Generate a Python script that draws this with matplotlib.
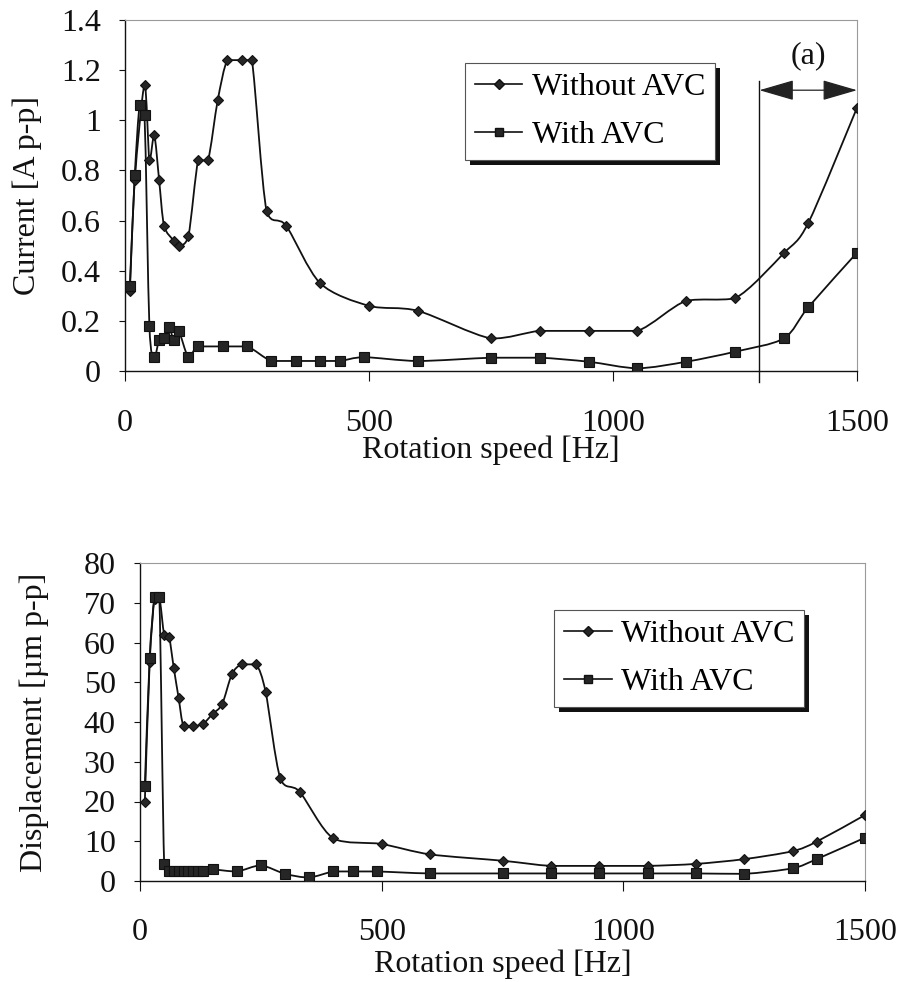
import numpy as np
import matplotlib
matplotlib.use("Agg")
import matplotlib.pyplot as plt
from matplotlib.path import Path
from matplotlib.patches import PathPatch, Rectangle
from matplotlib.lines import Line2D
from matplotlib.ticker import FuncFormatter
from matplotlib.transforms import IdentityTransform

plt.rcParams['font.family'] = ['Liberation Serif', 'DejaVu Serif']

# ---- Current vs rotation speed ----
cur_off_x = [10, 20, 40, 50, 60, 70, 80, 100, 110, 130, 150, 170, 190, 210, 240, 260,
             290, 330, 400, 500, 600, 750, 850, 950, 1050, 1150, 1250, 1350, 1400, 1500]
cur_off_y = [0.32, 0.76, 1.14, 0.84, 0.94, 0.76, 0.58, 0.52, 0.50, 0.54, 0.84, 0.84, 1.08, 1.24, 1.24, 1.24,
             0.64, 0.58, 0.35, 0.26, 0.24, 0.13, 0.16, 0.16, 0.16, 0.28, 0.29, 0.47, 0.59, 1.05]
cur_on_x = [10, 20, 30, 40, 50, 60, 70, 80, 90, 100, 110, 130, 150, 200, 250, 300, 350,
            400, 440, 490, 600, 750, 850, 950, 1050, 1150, 1250, 1350, 1400, 1500]
cur_on_y = [0.34, 0.78, 1.06, 1.02, 0.18, 0.055, 0.124, 0.13, 0.177, 0.124, 0.16, 0.055, 0.098, 0.098, 0.098, 0.04, 0.04,
            0.04, 0.04, 0.055, 0.04, 0.053, 0.053, 0.037, 0.011, 0.037, 0.077, 0.13, 0.254, 0.472]

# ---- Displacement vs rotation speed ----
disp_off_x = [10, 20, 30, 40, 50, 60, 70, 80, 90, 110, 130, 150, 170, 190, 210, 240, 260,
              290, 330, 400, 500, 600, 750, 850, 950, 1050, 1150, 1250, 1350, 1400, 1500]
disp_off_y = [20, 55, 71, 71.5, 62, 61.5, 53.5, 46, 39, 39, 39.5, 42, 44.5, 52, 54.5, 54.5, 47.5,
              26, 22.5, 10.7, 9.3, 6.7, 5.1, 3.8, 3.8, 3.8, 4.3, 5.5, 7.5, 9.9, 16.6]
disp_on_x = [10, 20, 30, 40, 50, 60, 70, 80, 90, 100, 110, 120, 130, 150, 200, 250, 300, 350,
             400, 440, 490, 600, 750, 850, 950, 1050, 1150, 1250, 1350, 1400, 1500]
disp_on_y = [24, 56, 71.5, 71.5, 4.4, 2.4, 2.4, 2.4, 2.4, 2.4, 2.4, 2.4, 2.4, 2.9, 2.4, 3.9, 1.8, 0.9,
             2.4, 2.4, 2.4, 1.9, 1.9, 1.9, 1.9, 1.9, 1.9, 1.8, 3.2, 5.5, 10.9]

series_labels = ["Without AVC", "With AVC"]
x_ticks = [0, 500, 1000, 1500]
cur_ticks = [0, 0.2, 0.4, 0.6, 0.8, 1.0, 1.2, 1.4]
disp_ticks = [0, 10, 20, 30, 40, 50, 60, 70, 80]

FS = 23
LEG_FS = 23
INK = "#111111"
SMOOTH = 1.0 / 7.0
OVERSHOOT = 0.1
DIAMOND_MS = 5.5
SQUARE_MS = 6.5


def smooth_path(x, y):
    """Smoothed Bezier connecting path; control heights are kept close to each segment's span."""
    pts = np.column_stack([x, y]).astype(float)
    n = len(pts)
    verts = [pts[0]]
    codes = [Path.MOVETO]
    for i in range(n - 1):
        p0 = pts[i - 1] if i > 0 else pts[i]
        p1 = pts[i]
        p2 = pts[i + 1]
        p3 = pts[i + 2] if i + 2 < n else pts[i + 1]
        c1 = p1 + (p2 - p0) * SMOOTH
        c2 = p2 - (p3 - p1) * SMOOTH
        lo, hi = min(p1[1], p2[1]), max(p1[1], p2[1])
        m = (hi - lo) * OVERSHOOT
        c1[1] = np.clip(c1[1], lo - m, hi + m)
        c2[1] = np.clip(c2[1], lo - m, hi + m)
        verts += [c1, c2, p2]
        codes += [Path.CURVE4] * 3
    return Path(verts, codes)


def draw_series(ax, x, y, marker, ms):
    ax.add_patch(PathPatch(smooth_path(x, y), facecolor="none", edgecolor=INK,
                           lw=1.3, zorder=3, joinstyle="round"))
    ax.plot(x, y, ls="none", marker=marker, ms=ms, mfc="#262626", mec=INK,
            mew=0.8, zorder=4)


def style_axes(ax, xlim, ylim, yticks, fmt):
    ax.set_xlim(*xlim)
    ax.set_ylim(*ylim)
    ax.set_xticks(x_ticks)
    ax.set_yticks(yticks)
    ax.yaxis.set_major_formatter(FuncFormatter(fmt))
    ax.xaxis.set_major_formatter(FuncFormatter(lambda v, p: f"{v:g}"))
    for s in ("left", "bottom"):
        ax.spines[s].set_color(INK)
        ax.spines[s].set_linewidth(1.0)
    for s in ("top", "right"):
        ax.spines[s].set_color("#9a9a9a")
        ax.spines[s].set_linewidth(0.8)
    ax.tick_params(axis="x", direction="out", length=7, width=0.8, pad=20,
                   labelsize=FS, colors=INK)
    ax.tick_params(axis="y", direction="out", length=4.5, width=0.8, pad=13,
                   labelsize=FS, colors=INK)


def add_legend(fig, ax, anchor):
    handles = [
        Line2D([], [], color=INK, lw=1.2, marker="D", ms=DIAMOND_MS - 0.5, mfc="#262626", mec=INK),
        Line2D([], [], color=INK, lw=1.2, marker="s", ms=SQUARE_MS - 0.5, mfc="#262626", mec=INK),
    ]
    leg = ax.legend(handles, series_labels, loc="upper left", bbox_to_anchor=anchor,
                    bbox_transform=fig.transFigure, borderaxespad=0, fontsize=LEG_FS,
                    frameon=True, fancybox=False, framealpha=1, edgecolor="#555555",
                    handlelength=1.5, handletextpad=0.3, labelspacing=0.6,
                    borderpad=0.3)
    leg.get_frame().set_linewidth(0.8)
    return leg


fig = plt.figure(figsize=(9.01, 9.82), dpi=100)
ax1 = fig.add_axes([125 / 901, 1 - 371 / 982, 732 / 901, 351 / 982])
ax2 = fig.add_axes([140 / 901, 1 - 881 / 982, 725 / 901, 318 / 982])

# Top panel: current
draw_series(ax1, cur_off_x, cur_off_y, "D", DIAMOND_MS)
draw_series(ax1, cur_on_x, cur_on_y, "s", SQUARE_MS)
style_axes(ax1, (0, 1500), (0, 1.4), cur_ticks, lambda v, p: f"{v:g}")
ax1.set_xlabel("Rotation speed [Hz]", fontsize=FS, color=INK)
ax1.set_ylabel("Current [A p-p]", fontsize=FS, color=INK)
ax1.xaxis.set_label_coords(0.5, -0.185)
ax1.yaxis.set_label_coords(-0.114, 0.5)

# Region (a): marker line and span arrow
ax1.plot([1300, 1300], [-0.045, 1.155], color=INK, lw=1.0, clip_on=False, zorder=3)
ax1.annotate("", xy=(1300, 1.12), xytext=(1500, 1.12),
             arrowprops=dict(arrowstyle="<|-|>,head_length=1.1,head_width=0.32",
                             mutation_scale=20, lw=0.9, color="#222222",
                             shrinkA=0, shrinkB=0), annotation_clip=False)
ax1.text(1400, 1.2, "(a)", ha="center", va="bottom", fontsize=LEG_FS, color=INK)

# Bottom panel: displacement
draw_series(ax2, disp_off_x, disp_off_y, "D", DIAMOND_MS)
draw_series(ax2, disp_on_x, disp_on_y, "s", SQUARE_MS)
style_axes(ax2, (0, 1500), (0, 80), disp_ticks, lambda v, p: f"{v:g}")
ax2.set_xlabel("Rotation speed [Hz]", fontsize=FS, color=INK)
ax2.set_ylabel("Displacement [µm p-p]", fontsize=FS, color=INK)
ax2.xaxis.set_label_coords(0.5, -0.215)
ax2.yaxis.set_label_coords(-0.125, 0.5)

leg1 = add_legend(fig, ax1, (465 / 901, 1 - 63 / 982))
leg2 = add_legend(fig, ax2, (554 / 901, 1 - 610 / 982))

# Drop shadows behind the legend boxes
fig.canvas.draw()
for ax, leg in ((ax1, leg1), (ax2, leg2)):
    bb = leg.get_frame().get_window_extent()
    sh = Rectangle((bb.x0 + 5, bb.y0 - 5), bb.width, bb.height,
                   transform=IdentityTransform(), facecolor="#111111",
                   edgecolor="none", zorder=4.9)
    ax.add_artist(sh)

fig.savefig("out.png", dpi=100)
